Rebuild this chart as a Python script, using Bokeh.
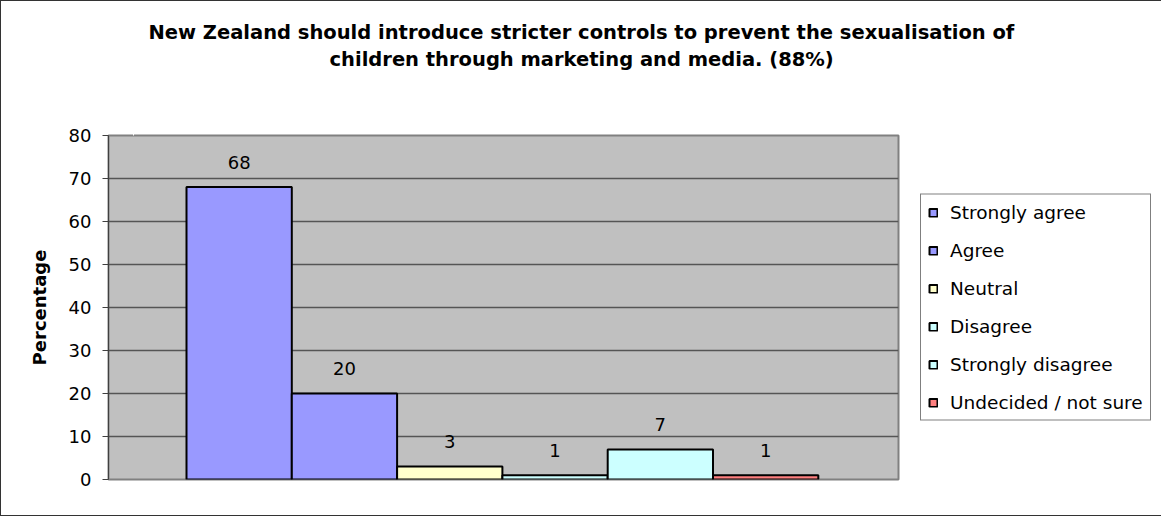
from bokeh.plotting import figure
from bokeh.models import (ColumnDataSource, Range1d, FixedTicker, LabelSet,
                          Legend, LegendItem, Title, LinearAxis)
from bokeh.core.properties import value
from bokeh.embed import file_html
from bokeh.resources import INLINE

# ---- data ----
categories = ["Strongly agree", "Agree", "Neutral", "Disagree",
              "Strongly disagree", "Undecided / not sure"]
values = [68, 20, 3, 1, 7, 1]
colors = ["#9999FF", "#9999FF", "#FFFFCC", "#CCFFFF", "#CCFFFF", "#FF8080"]
y_ticks = [0, 10, 20, 30, 40, 50, 60, 70, 80]
title_lines = ["New Zealand should introduce stricter controls to prevent the sexualisation of",
               "children through marketing and media. (88%)"]
y_label = "Percentage"

# ---- layout ----
FONT = "DejaVu Sans"
FRAME_W, FRAME_H = 790, 344
BAR_PX = 105.3
LEFT_GAP_PX = 78
Y_MAX = 80
x_start = -0.5 - LEFT_GAP_PX / BAR_PX
x_end = x_start + FRAME_W / BAR_PX
BL, BR, BT, BB = 107, 261, 134, 36

p = figure(frame_width=FRAME_W, frame_height=FRAME_H,
           min_border_left=BL, min_border_right=BR, min_border_top=BT, min_border_bottom=BB,
           x_range=Range1d(x_start, x_end), y_range=Range1d(0, Y_MAX),
           output_backend="svg", toolbar_location=None, x_axis_location=None)
p.styles = {"border": "1px solid #333333"}
p.background_fill_color = "#C0C0C0"
p.border_fill_color = "white"
p.outline_line_color = "#808080"
p.outline_line_width = 2
p.xgrid.visible = False
p.ygrid.grid_line_color = "#555555"
p.ygrid.grid_line_width = 1.5

src = ColumnDataSource(dict(x=list(range(len(categories))), top=values, color=colors,
                            cat=categories, label=[str(v) for v in values]))
r = p.vbar(x="x", top="top", width=1.0, fill_color="color", line_color="black",
           line_width=2, source=src)

labels = LabelSet(x="x", y="top", text="label", source=src, y_offset=25,
                  text_align="center", text_baseline="middle",
                  text_font=value(FONT), text_font_size=value("18px"), text_color="black")
p.add_layout(labels)

ax = p.yaxis[0]
ax.ticker = FixedTicker(ticks=y_ticks)
ax.major_label_text_font = FONT
ax.major_label_text_font_size = "18px"
ax.major_label_text_color = "black"
ax.axis_label = y_label
ax.axis_label_text_font = FONT
ax.axis_label_text_font_style = "bold"
ax.axis_label_text_font_size = "18px"
ax.axis_label_text_color = "black"
ax.major_tick_out = 6
ax.major_tick_in = 0
ax.minor_tick_line_color = None
ax.axis_line_color = "#404040"
ax.major_tick_line_color = "#404040"
ax.major_label_standoff = 11
ax.axis_label_standoff = 16

items = [LegendItem(label=c, renderers=[r], index=i) for i, c in enumerate(categories)]
legend = Legend(items=items, location="center_left", border_line_color="black",
                border_line_width=1, background_fill_color="white", background_fill_alpha=1,
                label_text_font=FONT, label_text_font_size="18.5px", label_text_color="black",
                glyph_width=10, glyph_height=10, label_height=20, spacing=17,
                padding=7, margin=22, label_standoff=12)
p.add_layout(legend, "right")

# blank spacer band between the frame and the title block (white tick, empty label)
spacer = LinearAxis(ticker=FixedTicker(ticks=[-1]), major_label_overrides={-1: ""},
                    axis_line_color=None, major_tick_out=65, major_tick_in=0,
                    major_tick_line_color="white", minor_tick_line_color=None,
                    major_label_standoff=0)
p.add_layout(spacer, "above")

# title: second line nearer the frame, first line above it
offsets = [40, 221]
standoffs = [4, 0]
for i in (1, 0):
    p.add_layout(Title(text=title_lines[i], align="left", offset=offsets[i],
                       standoff=standoffs[i], text_font=FONT,
                       text_font_style="bold", text_font_size="19.5px",
                       text_color="black"), "above")

open("out.html", "w").write(file_html(p, INLINE))
